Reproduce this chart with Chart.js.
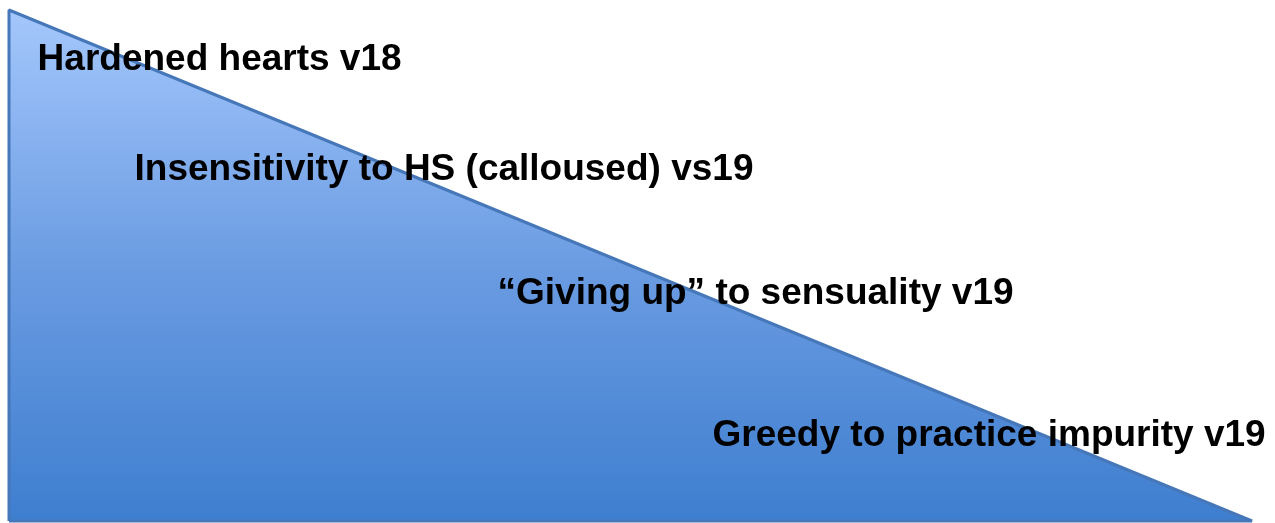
<!DOCTYPE html>
<html>
<head>
<meta charset="utf-8">
<script src="https://cdn.jsdelivr.net/npm/chart.js@4.4.1/dist/chart.umd.min.js"></script>
<style>
html,body{margin:0;padding:0;background:#ffffff;overflow:hidden;}
#wrap{width:1275px;height:523px;position:relative;}
</style>
</head>
<body>
<div id="wrap"><canvas id="c" width="1275" height="523"></canvas></div>
<script>
// Triangle outline (progress along x, intensity along y)
const triangleX = [0, 0, 100, 0];
const triangleY = [0, 100, 0, 0];

// Hypotenuse (the filled slope)
const slopeX = [0, 100];
const slopeY = [100, 0];

// Stage labels and where they sit (in the same 0-100 data units)
const stageLabels = [
  "Hardened hearts v18",
  "Insensitivity to HS (calloused) vs19",
  "\u201CGiving up\u201D to sensuality v19",
  "Greedy to practice impurity v19"
];
const stageX = [2.3, 10.1, 39.3, 56.6];
const stageY = [88.3, 66.8, 42.5, 14.7];

const outlinePts = triangleX.map((x, i) => ({x: x, y: triangleY[i]}));
const slopePts = slopeX.map((x, i) => ({x: x, y: slopeY[i]}));

const labelPlugin = {
  id: 'stageLabels',
  afterDatasetsDraw(chart) {
    const ctx = chart.ctx;
    const xs = chart.scales.x, ys = chart.scales.y;
    ctx.save();
    ctx.font = 'bold 37px "Liberation Sans", Arial, sans-serif';
    ctx.fillStyle = '#000000';
    ctx.textAlign = 'left';
    ctx.textBaseline = 'alphabetic';
    stageLabels.forEach((t, i) => {
      ctx.fillText(t, xs.getPixelForValue(stageX[i]), ys.getPixelForValue(stageY[i]));
    });
    ctx.restore();
  }
};

function gradientFill(context) {
  const chart = context.chart;
  const area = chart.chartArea;
  if (!area) return '#6a9be0';
  const g = chart.ctx.createLinearGradient(0, area.top, 0, area.bottom);
  g.addColorStop(0, '#a4c7fc');
  g.addColorStop(0.5, '#6b9ce2');
  g.addColorStop(1, '#3e7ecf');
  return g;
}

const ctx = document.getElementById('c').getContext('2d');
new Chart(ctx, {
  type: 'scatter',
  data: {
    datasets: [{
      data: outlinePts,
      showLine: true,
      tension: 0,
      borderColor: '#4677b8',
      borderWidth: 3,
      borderJoinStyle: 'bevel',
      pointRadius: 0,
      fill: false,
      clip: false,
      order: 0
    }, {
      data: slopePts,
      showLine: true,
      tension: 0,
      borderWidth: 0,
      borderColor: 'rgba(0,0,0,0)',
      pointRadius: 0,
      fill: 'origin',
      backgroundColor: gradientFill,
      order: 1
    }]
  },
  options: {
    responsive: false,
    animation: false,
    events: [],
    layout: { padding: { left: 9, right: 23, top: 10, bottom: 2 } },
    plugins: {
      legend: { display: false },
      tooltip: { enabled: false },
      title: { display: false },
      filler: { propagate: false, drawTime: 'beforeDatasetsDraw' }
    },
    scales: {
      x: { type: 'linear', min: 0, max: 100, display: false },
      y: { type: 'linear', min: 0, max: 100, display: false }
    }
  },
  plugins: [labelPlugin]
});
</script>
</body>
</html>
